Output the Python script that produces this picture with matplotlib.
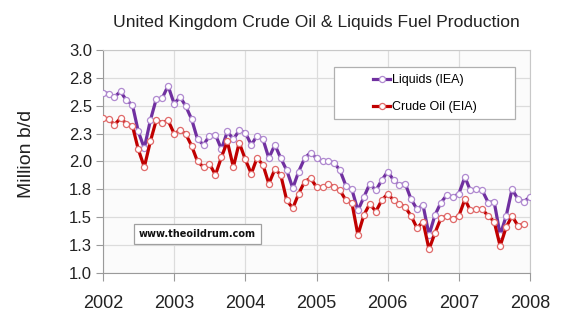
import numpy as np
import pandas as pd
import matplotlib
matplotlib.use("Agg")
import matplotlib.pyplot as plt
import matplotlib.dates as mdates
from matplotlib.patches import Rectangle

# monthly production, million barrels/day
liquids_iea = [
    2.62, 2.61, 2.58, 2.63, 2.55, 2.51, 2.27, 2.12, 2.37, 2.56, 2.57, 2.68,
    2.52, 2.58, 2.50, 2.38, 2.20, 2.15, 2.23, 2.24, 2.11, 2.27, 2.20, 2.28,
    2.26, 2.15, 2.23, 2.20, 2.03, 2.15, 2.03, 1.92, 1.76, 1.91, 2.03, 2.08,
    2.03, 2.00, 2.00, 1.99, 1.92, 1.78, 1.75, 1.56, 1.68, 1.80, 1.74, 1.83,
    1.91, 1.83, 1.79, 1.80, 1.66, 1.57, 1.61, 1.34, 1.52, 1.63, 1.70, 1.68,
    1.71, 1.86, 1.74, 1.75, 1.74, 1.63, 1.64, 1.34, 1.51, 1.75, 1.66, 1.64,
    1.68,
]
crude_eia = [
    2.39, 2.38, 2.33, 2.39, 2.34, 2.32, 2.11, 1.95, 2.18, 2.37, 2.35, 2.37,
    2.25, 2.28, 2.25, 2.14, 2.00, 1.95, 1.98, 1.88, 2.04, 2.18, 1.95, 2.17,
    2.02, 1.89, 2.03, 1.97, 1.80, 1.93, 1.88, 1.65, 1.58, 1.71, 1.82, 1.85,
    1.77, 1.77, 1.80, 1.77, 1.74, 1.65, 1.63, 1.34, 1.52, 1.62, 1.55, 1.65,
    1.71, 1.65, 1.62, 1.59, 1.51, 1.40, 1.46, 1.21, 1.36, 1.49, 1.51, 1.48,
    1.51, 1.66, 1.56, 1.57, 1.57, 1.51, 1.46, 1.24, 1.41, 1.51, 1.42, 1.44,
]
y_ticks = [1.0, 1.25, 1.5, 1.75, 2.0, 2.25, 2.5, 2.75, 3.0]
y_labels = ["1.0", "1.3", "1.5", "1.8", "2.0", "2.3", "2.5", "2.8", "3.0"]

dates_liq = pd.date_range("2002-01-01", periods=len(liquids_iea), freq="MS")
dates_crude = pd.date_range("2002-01-01", periods=len(crude_eia), freq="MS")

fig = plt.figure(figsize=(5.61, 3.24), dpi=100)
ax = fig.add_axes([0.1836, 0.1583, 0.7611, 0.6865])
ax.set_facecolor("#fbfbfb")

ax.plot(dates_liq, liquids_iea, color="#7030a0", lw=2.3, marker="o", ms=4.4,
        mfc="white", mec="#b08ad0", mew=0.9, label="Liquids (IEA)", zorder=3)
ax.plot(dates_crude, crude_eia, color="#c00000", lw=2.3, marker="o", ms=4.4,
        mfc="white", mec="#e06a6a", mew=0.9, label="Crude Oil (EIA)", zorder=3)

ax.set_xlim(pd.Timestamp("2002-01-01"), pd.Timestamp("2008-01-01"))
ax.set_ylim(1.0, 3.0)
ax.xaxis.set_major_locator(mdates.YearLocator())
ax.xaxis.set_major_formatter(mdates.DateFormatter("%Y"))
ax.set_yticks(y_ticks)
ax.set_yticklabels(y_labels)

ax.grid(True, color="#dcdcdc", lw=0.9)
ax.set_axisbelow(True)
for s in ["top", "right"]:
    ax.spines[s].set_color("#c8c8c8")
for s in ["left", "bottom"]:
    ax.spines[s].set_color("#9a9a9a")
ax.tick_params(axis="x", length=6, color="#9a9a9a", labelsize=13,
               labelcolor="#222222", pad=10)
ax.tick_params(axis="y", length=5, color="#9a9a9a", labelsize=12,
               labelcolor="#222222", pad=3)
for lab in ax.get_xticklabels() + ax.get_yticklabels():
    lab.set_family("Liberation Sans")

fig.text(27 / 561, 1 - 154 / 324, "Million b/d", rotation=90, ha="center",
         va="center", fontsize=14, family="Liberation Sans", color="#222222")

fig.text(0.5642, 1 - 22 / 324, "United Kingdom Crude Oil & Liquids Fuel Production",
         ha="center", va="center", fontsize=12.6, family="Liberation Sans",
         color="#222222")

# legend box
ax.add_patch(Rectangle((0.541, 0.691), 0.423, 0.234, transform=ax.transAxes,
                       facecolor="white", edgecolor="#b0b0b0", lw=0.9, zorder=4))
leg = ax.legend(loc="center left", bbox_to_anchor=(0.632, 0.806), frameon=False,
                borderaxespad=0, borderpad=0, handlelength=1.4, handletextpad=0.15,
                labelspacing=1.2, prop={"family": "Liberation Sans", "size": 9})
leg.set_zorder(5)

ax.text(0.221, 0.174, "www.theoildrum.com", transform=ax.transAxes,
        ha="center", va="center", fontsize=7, fontweight="bold",
        family="DejaVu Sans", color="#111111", zorder=4,
        bbox=dict(boxstyle="square,pad=0.55", facecolor="white",
                  edgecolor="#a0a0a0", lw=0.9))

fig.savefig("out.png", dpi=100)
